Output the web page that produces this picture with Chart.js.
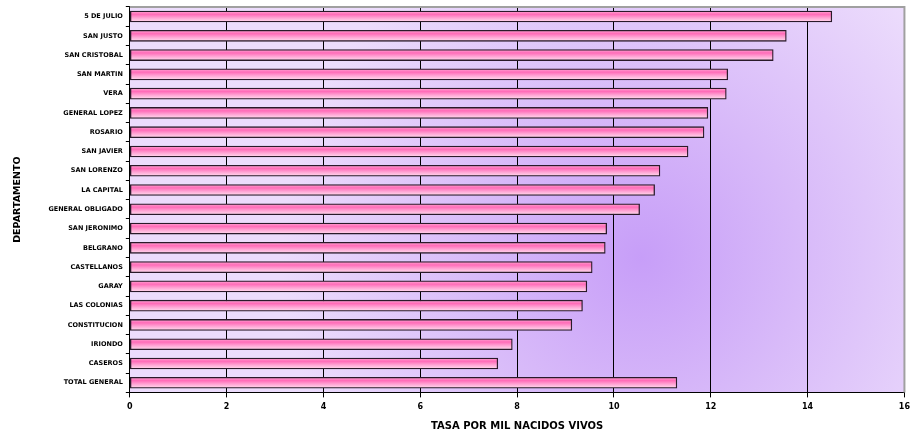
<!DOCTYPE html>
<html lang="es">
<head>
    <meta charset="UTF-8">
    <title>Tasa por mil nacidos vivos por departamento</title>
    <style>
        html, body {
            margin: 0;
            padding: 0;
            background-color: #ffffff;
        }
        .chart-container {
            width: 915px;
            height: 436px;
        }
    </style>
</head>
<body>
    <div class="chart-container">
        <canvas id="tasaChart"></canvas>
    </div>

    <script src="https://cdn.jsdelivr.net/npm/chart.js"></script>
    <script>
        // Departamentos (eje vertical, de arriba hacia abajo)
        const departamentos = [
            '5 DE JULIO', 'SAN JUSTO', 'SAN CRISTOBAL', 'SAN MARTIN', 'VERA',
            'GENERAL LOPEZ', 'ROSARIO', 'SAN JAVIER', 'SAN LORENZO', 'LA CAPITAL',
            'GENERAL OBLIGADO', 'SAN JERONIMO', 'BELGRANO', 'CASTELLANOS', 'GARAY',
            'LAS COLONIAS', 'CONSTITUCION', 'IRIONDO', 'CASEROS', 'TOTAL GENERAL'
        ];

        // Tasa por mil nacidos vivos
        const tasas = [
            14.50, 13.56, 13.29, 12.35, 12.32,
            11.94, 11.86, 11.53, 10.95, 10.84,
            10.53, 9.85, 9.82, 9.55, 9.44,
            9.35, 9.13, 7.90, 7.60, 11.30
        ];

        // Marcas del eje horizontal
        const xTicks = [0, 2, 4, 6, 8, 10, 12, 14, 16];

        const BAR_H = 11;

        // Fondo lila con degradado radial y borde gris arriba/derecha
        const plotBackground = {
            id: 'plotBackground',
            beforeDraw(chart) {
                const { ctx, chartArea } = chart;
                if (!chartArea) return;
                const { left, top, right, bottom } = chartArea;
                const cx = left + (right - left) * 0.66;
                const cy = top + (bottom - top) * 0.65;
                const g = ctx.createRadialGradient(cx, cy, 0, cx, cy, 360);
                g.addColorStop(0, '#c79ef8');
                g.addColorStop(0.45, '#d8baf9');
                g.addColorStop(1, '#ecdcfc');
                ctx.save();
                ctx.fillStyle = g;
                ctx.fillRect(left, top, right - left, bottom - top);
                ctx.restore();
            },
            afterDatasetsDraw(chart) {
                const { ctx, chartArea } = chart;
                const { left, top, right, bottom } = chartArea;
                ctx.save();
                ctx.strokeStyle = '#a0a0a0';
                ctx.lineWidth = 2;
                ctx.beginPath();
                ctx.moveTo(left, top);
                ctx.lineTo(right, top);
                ctx.lineTo(right, bottom);
                ctx.stroke();
                ctx.restore();
            }
        };

        function barGradient(context) {
            const chart = context.chart;
            if (!chart.chartArea) return '#ff88c8';
            const y = chart.scales.y.getPixelForValue(context.dataIndex);
            const g = chart.ctx.createLinearGradient(0, y - BAR_H / 2, 0, y + BAR_H / 2);
            g.addColorStop(0, '#ffa6d4');
            g.addColorStop(0.3, '#ff6cb8');
            g.addColorStop(0.65, '#ffa8d6');
            g.addColorStop(1, '#ffdcee');
            return g;
        }

        new Chart(document.getElementById('tasaChart'), {
            type: 'bar',
            data: {
                labels: departamentos,
                datasets: [{
                    label: 'Tasa',
                    data: tasas,
                    backgroundColor: barGradient,
                    borderColor: '#2a1a2a',
                    borderWidth: 1.3,
                    borderSkipped: false,
                    barThickness: BAR_H
                }]
            },
            options: {
                indexAxis: 'y',
                responsive: true,
                maintainAspectRatio: false,
                animation: false,
                layout: {
                    padding: { top: 6, right: -4, bottom: 4, left: 12 }
                },
                plugins: {
                    legend: { display: false },
                    tooltip: { enabled: false }
                },
                scales: {
                    x: {
                        min: 0,
                        max: 16,
                        afterBuildTicks(scale) {
                            scale.ticks = xTicks.map(v => ({ value: v }));
                        },
                        grid: {
                            color: '#000000',
                            lineWidth: 1,
                            tickLength: 5
                        },
                        border: { color: '#000000', width: 1 },
                        ticks: {
                            color: '#000000',
                            padding: 5,
                            font: { family: 'DejaVu Sans', size: 8, weight: 'bold' }
                        },
                        title: {
                            display: true,
                            text: 'TASA POR MIL NACIDOS VIVOS',
                            color: '#000000',
                            padding: { top: 3, bottom: 0 },
                            font: { family: 'DejaVu Sans', size: 10, weight: 'bold' }
                        }
                    },
                    y: {
                        offset: true,
                        grid: {
                            offset: true,
                            drawOnChartArea: false,
                            color: '#000000',
                            tickLength: 4
                        },
                        border: { color: '#000000', width: 1 },
                        ticks: {
                            color: '#000000',
                            padding: 3,
                            autoSkip: false,
                            font: { family: 'DejaVu Sans', size: 6.5, weight: 'bold' }
                        },
                        title: {
                            display: true,
                            text: 'DEPARTAMENTO',
                            color: '#000000',
                            padding: { top: 0, bottom: 22 },
                            font: { family: 'DejaVu Sans', size: 9.5, weight: 'bold' }
                        }
                    }
                }
            },
            plugins: [plotBackground]
        });
    </script>
</body>
</html>
